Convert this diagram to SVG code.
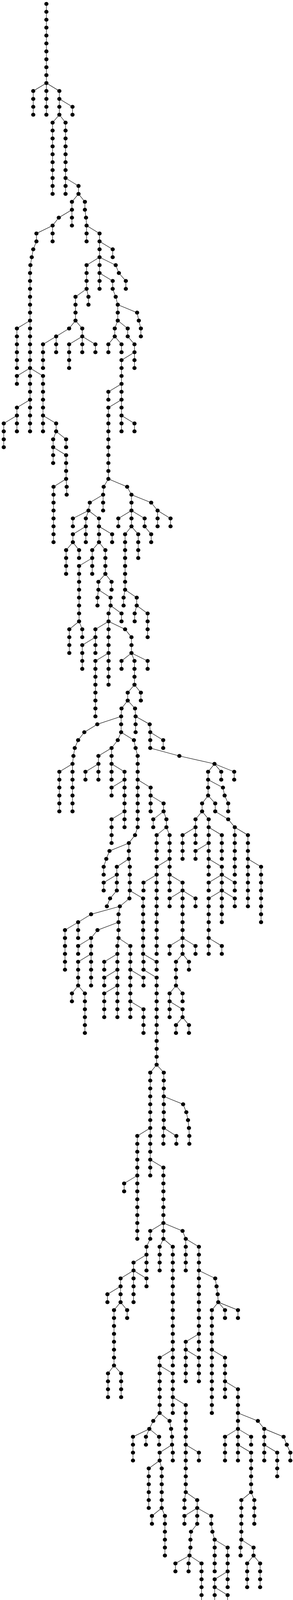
<svg xmlns="http://www.w3.org/2000/svg" width="751" height="4236" viewBox="0 0 751 4236">
<defs><ellipse id="d" rx="11" ry="0.2467"/></defs>
<style>.e{fill:none;stroke:#000;stroke-width:1.1}</style>
<rect width="751" height="4236" fill="#fff"/>
<g transform="matrix(0.4814 0 0 20.266 0 10)">
<g id="edges"><path class="e" vector-effect="non-scaling-stroke" d="M247,0V10M247,10L177,11V14M247,10V14M247,10L316,11V12M316,12L386,13V14M316,12V14M316,14L280,15V24M316,14L349,15V22M349,22V24M349,22L418,23V24M418,24L383,25V26M418,24L452,25V26L458,27L461,28M383,26V28M383,26L313,27L280,28M280,28V30M280,28L194,29V30L177,31L169,32L162,33L160,34V40M160,40L90,41V46M160,40V46M160,46L90,47V48M160,46V50M160,46L229,47V52M160,50L90,51V52M160,50V54M90,52L20,53V56M90,52V54M229,52V54M229,52L299,53V54M299,54L352,55V56M299,54L283,55V56M283,56V58M283,56L352,57V60M352,60L285,61V68M352,60L355,61V62M461,28V30M461,28L530,29V30M530,30L600,31V32M530,30V32M530,32L461,33V36M530,32V34M530,32L616,33L633,34L670,35V36M530,34V36M530,34L600,35V36L616,37L627,38M461,36L471,37V38M461,36L402,37V40M402,40L368,41L299,42M402,40L438,41V42M299,42L229,43V46M299,42V44M438,42L368,43V46M438,42V44M438,42L508,43V44M627,38L730,39L739,40L750,41V42M627,38V40M627,40L611,41V42M627,40L680,41V42L716,43V44M611,42L577,43V44M611,42L647,43V44M716,44L647,45V48M716,44V46M647,48L577,49V50M647,48V50M647,50L577,51V60M647,50V52M647,52V54M647,52L716,53V54M577,60L552,61L549,62M577,60L677,61L700,62M549,62V64M549,62L478,63L471,64M471,64L388,65V66M471,64L457,65V66M471,64L527,65V66M457,66L388,67V68M457,66V68M388,68L352,69V72M388,68L421,69V70M527,66V68M527,66L597,67V68M527,68L491,69V70M527,68L561,69V72M491,70L421,71V78M491,70V72M421,78L369,79V82M421,78L438,79V80M561,72L524,73V74M561,72L594,73V74M524,74L519,75V76M524,74L589,75V76M589,76L578,77V78M589,76L647,77V78M578,78L508,79V80M578,78V82M578,78L666,79L700,80V82M508,80L438,81V84M508,80V82M578,82L508,83V90M578,82V86M700,82L647,83V84M700,82L716,83V86M700,82L786,83V84M716,86L680,87V88M716,86L750,87V88M680,88L647,89L645,90M680,88L719,89L722,90M645,90L518,91L449,92L416,93L398,94L391,95L386,96M645,90V92M386,96L316,97V102M386,96V102M645,92L627,93L594,94M645,92L713,93L722,94L733,95V98M594,94L524,95V96M594,94V96M524,96L455,97V98M524,96V98M594,96V98M594,96L663,97V98M663,98L594,99V100M663,98V102M663,102L594,103V106M663,102V104M733,98V104L719,105L686,106M733,98L802,99V100M802,100V102M802,100L871,101V102M871,102L816,103V104M871,102L886,103V104M722,90V92M722,90L797,91L800,92M800,92L869,93V94M800,92V94L955,95L1142,96M1142,96L1108,97V98M1142,96L1178,97V98M1142,96L1247,97V98M1108,98V100M1108,98L1187,99L1196,100L1215,101V102M1108,100L1076,101V102M1108,100L1146,101V102L1215,103L1250,104M1076,102L1041,103V104M1076,102L1111,103V104M686,106L583,107L566,108L552,109V110M686,106V108M686,108L622,109V110M686,108L691,109V112M622,110L552,111V112M622,110V112L586,113L569,114M691,112L689,113L638,114M691,112L762,113V120M638,114L485,115L416,116M638,114L631,115V116M416,116L346,117V122M416,116V118M631,116L519,117L485,118M631,116V118M485,118L416,119V120M485,118V120M485,120L416,121V124M485,120V124M416,124L383,125V126M416,124L452,125V130M631,118L625,119V120M631,118L694,119V122M625,120L555,121V122M625,120V122M625,122L555,123V124M625,122V124M625,124L555,125V128M625,124V128M694,122V126M694,122L764,123V124M694,126V128M694,126L764,127V130M762,120L764,121V122L834,123V134M762,120L834,121V122M834,134L800,135V142M834,134L872,135V138M872,138V142M872,138L975,139L992,140L1001,141L1006,142L1008,143V144M872,142L870,143V144M872,142L939,143V144M800,142L731,143V148M800,142V146M731,148L661,149V150M731,148V156M800,146V148M800,146L870,147V154M870,154L800,155V156L780,157V158M870,154V156M870,154L972,155L989,156M780,158L711,159V160M780,158V160M711,160L642,161V162M711,160V164M711,160L780,161V162M642,162L572,163V164M642,162V164M642,164L607,165V172M642,164L677,165V166M607,172L575,173V176M607,172L645,173V176M870,156L850,157V160M870,156L920,157V170M920,170L850,171V172M920,170V172M850,172V178M850,172L920,173V176M989,156V160M989,156L1059,157V160M1059,160V168M1059,160L1146,161L1153,162L1159,163L1162,164M1059,168L989,169V170M1059,168V170M989,170V174M989,170L1059,171V174M1162,164L1128,165V170M1162,164L1198,165V166M1162,164L1267,165V166M1128,170V178M1128,170L1198,171V174M1198,174V176M1198,174L1267,175V178M850,178L816,179L795,180M850,178L903,179L911,180L916,181V182M795,180L708,181V184M795,180L777,181V182M795,180L847,181V182M916,182L850,183V184M916,182L920,183V184M850,184L792,185V190M850,184L861,185V190M861,190L809,191V192M861,190L878,191V196M920,176V178M920,176L989,177V182M989,182V188M989,182L1059,183V184M989,188L982,189V190M989,188L1050,189V190M1050,190L982,191V192M1050,190V192L1017,193L1014,194V195L1009,196M1050,190L1125,191V192L1131,193L1143,194M1009,196L934,197V198M1009,196L1004,197V198M1009,196L1073,197V204M1143,194V198M1143,194L1212,195V198M1212,198L1143,199V200M1212,198V200M1143,200V202M1143,200L1212,201V208M1267,178V180M1267,178L1373,179L1407,180M1267,180L1198,181V184M1267,180V182M1267,180L1337,181V182M1267,182V184M1267,182L1337,183V188M1337,188L1285,189V194M1337,188L1354,189V192M1285,194L1281,195V196M1285,194L1350,195V196M1350,196L1316,197V200M1350,196L1385,197V200M1407,180V182M1407,180L1510,181L1527,182L1546,183V184M1407,182V184M1407,182L1476,183V186M886,104L834,105V108M886,104L903,105V108M903,108L834,109V110M903,108V110M834,110L764,111V112M834,110V120M903,110V112M903,110L972,111V112M972,112L903,113V114M972,112V118M972,112L1041,113V114M972,118L903,119V120M972,118V120M972,118L1041,119V120M972,120L937,121V124M972,120L1006,121V122M937,124L903,125V126M937,124L972,125V126M903,126V128M903,126L972,127V128M972,128L937,129V130M972,128L1006,129V130M1041,104L972,105V108M1041,104V106M1111,104V106M1111,104L1181,105V108M1111,106L1041,107V108M1111,106V108M1111,108V110M1111,108L1181,109V110M1181,110L1111,111V112M1181,110V112M1181,110L1250,111V112M1181,112L1111,113V118M1181,112V116M1181,112L1250,113V114M1111,118V120M1111,118L1181,119V120M1250,104V110M1250,104L1320,105V108M1320,108V114M1320,108L1390,109V116M700,62V64M700,62L805,63L839,64M700,64L630,65V66M700,64V66M700,64L770,65V66L805,67V68M700,66L666,67V74M700,66L736,67V70M666,74L658,75V76M666,74L728,75V76M728,76L717,77V78M728,76L786,77V80M839,64V66M839,64L908,65V66"/></g>
<g id="nodes">
<g id="n247_0"><use href="#d" x="247" y="0"/></g><g id="n247_1"><use href="#d" x="247" y="1"/></g><g id="n247_2"><use href="#d" x="247" y="2"/></g><g id="n247_3"><use href="#d" x="247" y="3"/></g><g id="n247_4"><use href="#d" x="247" y="4"/></g><g id="n247_5"><use href="#d" x="247" y="5"/></g><g id="n247_6"><use href="#d" x="247" y="6"/></g><g id="n247_7"><use href="#d" x="247" y="7"/></g><g id="n247_8"><use href="#d" x="247" y="8"/></g><g id="n247_9"><use href="#d" x="247" y="9"/></g><g id="n247_10"><use href="#d" x="247" y="10"/></g>
<g id="n177_11"><use href="#d" x="177" y="11"/></g><g id="n177_12"><use href="#d" x="177" y="12"/></g><g id="n177_13"><use href="#d" x="177" y="13"/></g><g id="n177_14"><use href="#d" x="177" y="14"/></g>
<g id="n247_11"><use href="#d" x="247" y="11"/></g><g id="n247_12"><use href="#d" x="247" y="12"/></g><g id="n247_13"><use href="#d" x="247" y="13"/></g><g id="n247_14"><use href="#d" x="247" y="14"/></g>
<g id="n316_11"><use href="#d" x="316" y="11"/></g><g id="n316_12"><use href="#d" x="316" y="12"/></g><g id="n386_13"><use href="#d" x="386" y="13"/></g><g id="n386_14"><use href="#d" x="386" y="14"/></g><g id="n316_13"><use href="#d" x="316" y="13"/></g><g id="n316_14"><use href="#d" x="316" y="14"/></g>
<g id="n280_15"><use href="#d" x="280" y="15"/></g><g id="n280_16"><use href="#d" x="280" y="16"/></g><g id="n280_17"><use href="#d" x="280" y="17"/></g><g id="n280_18"><use href="#d" x="280" y="18"/></g><g id="n280_19"><use href="#d" x="280" y="19"/></g><g id="n280_20"><use href="#d" x="280" y="20"/></g><g id="n280_21"><use href="#d" x="280" y="21"/></g><g id="n280_22"><use href="#d" x="280" y="22"/></g><g id="n280_23"><use href="#d" x="280" y="23"/></g><g id="n280_24"><use href="#d" x="280" y="24"/></g>
<g id="n349_15"><use href="#d" x="349" y="15"/></g><g id="n349_16"><use href="#d" x="349" y="16"/></g><g id="n349_17"><use href="#d" x="349" y="17"/></g><g id="n349_18"><use href="#d" x="349" y="18"/></g><g id="n349_19"><use href="#d" x="349" y="19"/></g><g id="n349_20"><use href="#d" x="349" y="20"/></g><g id="n349_21"><use href="#d" x="349" y="21"/></g><g id="n349_22"><use href="#d" x="349" y="22"/></g><g id="n349_23"><use href="#d" x="349" y="23"/></g><g id="n349_24"><use href="#d" x="349" y="24"/></g>
<g id="n418_23"><use href="#d" x="418" y="23"/></g><g id="n418_24"><use href="#d" x="418" y="24"/></g><g id="n383_25"><use href="#d" x="383" y="25"/></g><g id="n383_26"><use href="#d" x="383" y="26"/></g><g id="n452_25"><use href="#d" x="452" y="25"/></g><g id="n452_26"><use href="#d" x="452" y="26"/></g><g id="n458_27"><use href="#d" x="458" y="27"/></g><g id="n461_28"><use href="#d" x="461" y="28"/></g>
<g id="n383_27"><use href="#d" x="383" y="27"/></g><g id="n383_28"><use href="#d" x="383" y="28"/></g><g id="n313_27"><use href="#d" x="313" y="27"/></g><g id="n280_28"><use href="#d" x="280" y="28"/></g><g id="n280_29"><use href="#d" x="280" y="29"/></g><g id="n280_30"><use href="#d" x="280" y="30"/></g>
<g id="n194_29"><use href="#d" x="194" y="29"/></g><g id="n194_30"><use href="#d" x="194" y="30"/></g><g id="n177_31"><use href="#d" x="177" y="31"/></g><g id="n169_32"><use href="#d" x="169" y="32"/></g><g id="n162_33"><use href="#d" x="162" y="33"/></g><g id="n160_34"><use href="#d" x="160" y="34"/></g><g id="n160_35"><use href="#d" x="160" y="35"/></g><g id="n160_36"><use href="#d" x="160" y="36"/></g><g id="n160_37"><use href="#d" x="160" y="37"/></g><g id="n160_38"><use href="#d" x="160" y="38"/></g><g id="n160_39"><use href="#d" x="160" y="39"/></g><g id="n160_40"><use href="#d" x="160" y="40"/></g>
<g id="n90_41"><use href="#d" x="90" y="41"/></g><g id="n90_42"><use href="#d" x="90" y="42"/></g><g id="n90_43"><use href="#d" x="90" y="43"/></g><g id="n90_44"><use href="#d" x="90" y="44"/></g><g id="n90_45"><use href="#d" x="90" y="45"/></g><g id="n90_46"><use href="#d" x="90" y="46"/></g>
<g id="n160_41"><use href="#d" x="160" y="41"/></g><g id="n160_42"><use href="#d" x="160" y="42"/></g><g id="n160_43"><use href="#d" x="160" y="43"/></g><g id="n160_44"><use href="#d" x="160" y="44"/></g><g id="n160_45"><use href="#d" x="160" y="45"/></g><g id="n160_46"><use href="#d" x="160" y="46"/></g>
<g id="n90_47"><use href="#d" x="90" y="47"/></g><g id="n90_48"><use href="#d" x="90" y="48"/></g><g id="n160_47"><use href="#d" x="160" y="47"/></g><g id="n160_48"><use href="#d" x="160" y="48"/></g><g id="n160_49"><use href="#d" x="160" y="49"/></g><g id="n160_50"><use href="#d" x="160" y="50"/></g>
<g id="n229_47"><use href="#d" x="229" y="47"/></g><g id="n229_48"><use href="#d" x="229" y="48"/></g><g id="n229_49"><use href="#d" x="229" y="49"/></g><g id="n229_50"><use href="#d" x="229" y="50"/></g><g id="n229_51"><use href="#d" x="229" y="51"/></g><g id="n229_52"><use href="#d" x="229" y="52"/></g>
<g id="n90_51"><use href="#d" x="90" y="51"/></g><g id="n90_52"><use href="#d" x="90" y="52"/></g><g id="n160_51"><use href="#d" x="160" y="51"/></g><g id="n160_52"><use href="#d" x="160" y="52"/></g><g id="n160_53"><use href="#d" x="160" y="53"/></g><g id="n160_54"><use href="#d" x="160" y="54"/></g>
<g id="n20_53"><use href="#d" x="20" y="53"/></g><g id="n20_54"><use href="#d" x="20" y="54"/></g><g id="n20_55"><use href="#d" x="20" y="55"/></g><g id="n20_56"><use href="#d" x="20" y="56"/></g><g id="n90_53"><use href="#d" x="90" y="53"/></g><g id="n90_54"><use href="#d" x="90" y="54"/></g>
<g id="n229_53"><use href="#d" x="229" y="53"/></g><g id="n229_54"><use href="#d" x="229" y="54"/></g><g id="n299_53"><use href="#d" x="299" y="53"/></g><g id="n299_54"><use href="#d" x="299" y="54"/></g><g id="n352_55"><use href="#d" x="352" y="55"/></g><g id="n352_56"><use href="#d" x="352" y="56"/></g><g id="n283_55"><use href="#d" x="283" y="55"/></g><g id="n283_56"><use href="#d" x="283" y="56"/></g><g id="n283_57"><use href="#d" x="283" y="57"/></g><g id="n283_58"><use href="#d" x="283" y="58"/></g>
<g id="n352_57"><use href="#d" x="352" y="57"/></g><g id="n352_58"><use href="#d" x="352" y="58"/></g><g id="n352_59"><use href="#d" x="352" y="59"/></g><g id="n352_60"><use href="#d" x="352" y="60"/></g>
<g id="n285_61"><use href="#d" x="285" y="61"/></g><g id="n285_62"><use href="#d" x="285" y="62"/></g><g id="n285_63"><use href="#d" x="285" y="63"/></g><g id="n285_64"><use href="#d" x="285" y="64"/></g><g id="n285_65"><use href="#d" x="285" y="65"/></g><g id="n285_66"><use href="#d" x="285" y="66"/></g><g id="n285_67"><use href="#d" x="285" y="67"/></g><g id="n285_68"><use href="#d" x="285" y="68"/></g><g id="n355_61"><use href="#d" x="355" y="61"/></g><g id="n355_62"><use href="#d" x="355" y="62"/></g>
<g id="n461_29"><use href="#d" x="461" y="29"/></g><g id="n461_30"><use href="#d" x="461" y="30"/></g><g id="n530_29"><use href="#d" x="530" y="29"/></g><g id="n530_30"><use href="#d" x="530" y="30"/></g><g id="n600_31"><use href="#d" x="600" y="31"/></g><g id="n600_32"><use href="#d" x="600" y="32"/></g><g id="n530_31"><use href="#d" x="530" y="31"/></g><g id="n530_32"><use href="#d" x="530" y="32"/></g>
<g id="n461_33"><use href="#d" x="461" y="33"/></g><g id="n461_34"><use href="#d" x="461" y="34"/></g><g id="n461_35"><use href="#d" x="461" y="35"/></g><g id="n461_36"><use href="#d" x="461" y="36"/></g><g id="n530_33"><use href="#d" x="530" y="33"/></g><g id="n530_34"><use href="#d" x="530" y="34"/></g>
<g id="n616_33"><use href="#d" x="616" y="33"/></g><g id="n633_34"><use href="#d" x="633" y="34"/></g><g id="n670_35"><use href="#d" x="670" y="35"/></g><g id="n670_36"><use href="#d" x="670" y="36"/></g><g id="n530_35"><use href="#d" x="530" y="35"/></g><g id="n530_36"><use href="#d" x="530" y="36"/></g>
<g id="n600_35"><use href="#d" x="600" y="35"/></g><g id="n600_36"><use href="#d" x="600" y="36"/></g><g id="n616_37"><use href="#d" x="616" y="37"/></g><g id="n627_38"><use href="#d" x="627" y="38"/></g><g id="n471_37"><use href="#d" x="471" y="37"/></g><g id="n471_38"><use href="#d" x="471" y="38"/></g>
<g id="n402_37"><use href="#d" x="402" y="37"/></g><g id="n402_38"><use href="#d" x="402" y="38"/></g><g id="n402_39"><use href="#d" x="402" y="39"/></g><g id="n402_40"><use href="#d" x="402" y="40"/></g><g id="n368_41"><use href="#d" x="368" y="41"/></g><g id="n299_42"><use href="#d" x="299" y="42"/></g><g id="n438_41"><use href="#d" x="438" y="41"/></g><g id="n438_42"><use href="#d" x="438" y="42"/></g>
<g id="n229_43"><use href="#d" x="229" y="43"/></g><g id="n229_44"><use href="#d" x="229" y="44"/></g><g id="n229_45"><use href="#d" x="229" y="45"/></g><g id="n229_46"><use href="#d" x="229" y="46"/></g><g id="n299_43"><use href="#d" x="299" y="43"/></g><g id="n299_44"><use href="#d" x="299" y="44"/></g>
<g id="n368_43"><use href="#d" x="368" y="43"/></g><g id="n368_44"><use href="#d" x="368" y="44"/></g><g id="n368_45"><use href="#d" x="368" y="45"/></g><g id="n368_46"><use href="#d" x="368" y="46"/></g><g id="n438_43"><use href="#d" x="438" y="43"/></g><g id="n438_44"><use href="#d" x="438" y="44"/></g><g id="n508_43"><use href="#d" x="508" y="43"/></g><g id="n508_44"><use href="#d" x="508" y="44"/></g>
<g id="n730_39"><use href="#d" x="730" y="39"/></g><g id="n739_40"><use href="#d" x="739" y="40"/></g><g id="n750_41"><use href="#d" x="750" y="41"/></g><g id="n750_42"><use href="#d" x="750" y="42"/></g><g id="n627_39"><use href="#d" x="627" y="39"/></g><g id="n627_40"><use href="#d" x="627" y="40"/></g>
<g id="n611_41"><use href="#d" x="611" y="41"/></g><g id="n611_42"><use href="#d" x="611" y="42"/></g><g id="n680_41"><use href="#d" x="680" y="41"/></g><g id="n680_42"><use href="#d" x="680" y="42"/></g><g id="n716_43"><use href="#d" x="716" y="43"/></g><g id="n716_44"><use href="#d" x="716" y="44"/></g>
<g id="n577_43"><use href="#d" x="577" y="43"/></g><g id="n577_44"><use href="#d" x="577" y="44"/></g><g id="n647_43"><use href="#d" x="647" y="43"/></g><g id="n647_44"><use href="#d" x="647" y="44"/></g>
<g id="n647_45"><use href="#d" x="647" y="45"/></g><g id="n647_46"><use href="#d" x="647" y="46"/></g><g id="n647_47"><use href="#d" x="647" y="47"/></g><g id="n647_48"><use href="#d" x="647" y="48"/></g><g id="n716_45"><use href="#d" x="716" y="45"/></g><g id="n716_46"><use href="#d" x="716" y="46"/></g>
<g id="n577_49"><use href="#d" x="577" y="49"/></g><g id="n577_50"><use href="#d" x="577" y="50"/></g><g id="n647_49"><use href="#d" x="647" y="49"/></g><g id="n647_50"><use href="#d" x="647" y="50"/></g>
<g id="n577_51"><use href="#d" x="577" y="51"/></g><g id="n577_52"><use href="#d" x="577" y="52"/></g><g id="n577_53"><use href="#d" x="577" y="53"/></g><g id="n577_54"><use href="#d" x="577" y="54"/></g><g id="n577_55"><use href="#d" x="577" y="55"/></g><g id="n577_56"><use href="#d" x="577" y="56"/></g><g id="n577_57"><use href="#d" x="577" y="57"/></g><g id="n577_58"><use href="#d" x="577" y="58"/></g><g id="n577_59"><use href="#d" x="577" y="59"/></g><g id="n577_60"><use href="#d" x="577" y="60"/></g>
<g id="n647_51"><use href="#d" x="647" y="51"/></g><g id="n647_52"><use href="#d" x="647" y="52"/></g><g id="n647_53"><use href="#d" x="647" y="53"/></g><g id="n647_54"><use href="#d" x="647" y="54"/></g><g id="n716_53"><use href="#d" x="716" y="53"/></g><g id="n716_54"><use href="#d" x="716" y="54"/></g>
<g id="n552_61"><use href="#d" x="552" y="61"/></g><g id="n549_62"><use href="#d" x="549" y="62"/></g><g id="n677_61"><use href="#d" x="677" y="61"/></g><g id="n700_62"><use href="#d" x="700" y="62"/></g><g id="n549_63"><use href="#d" x="549" y="63"/></g><g id="n549_64"><use href="#d" x="549" y="64"/></g><g id="n478_63"><use href="#d" x="478" y="63"/></g><g id="n471_64"><use href="#d" x="471" y="64"/></g>
<g id="n388_65"><use href="#d" x="388" y="65"/></g><g id="n388_66"><use href="#d" x="388" y="66"/></g><g id="n457_65"><use href="#d" x="457" y="65"/></g><g id="n457_66"><use href="#d" x="457" y="66"/></g><g id="n527_65"><use href="#d" x="527" y="65"/></g><g id="n527_66"><use href="#d" x="527" y="66"/></g>
<g id="n388_67"><use href="#d" x="388" y="67"/></g><g id="n388_68"><use href="#d" x="388" y="68"/></g><g id="n457_67"><use href="#d" x="457" y="67"/></g><g id="n457_68"><use href="#d" x="457" y="68"/></g>
<g id="n352_69"><use href="#d" x="352" y="69"/></g><g id="n352_70"><use href="#d" x="352" y="70"/></g><g id="n352_71"><use href="#d" x="352" y="71"/></g><g id="n352_72"><use href="#d" x="352" y="72"/></g><g id="n421_69"><use href="#d" x="421" y="69"/></g><g id="n421_70"><use href="#d" x="421" y="70"/></g>
<g id="n527_67"><use href="#d" x="527" y="67"/></g><g id="n527_68"><use href="#d" x="527" y="68"/></g><g id="n597_67"><use href="#d" x="597" y="67"/></g><g id="n597_68"><use href="#d" x="597" y="68"/></g><g id="n491_69"><use href="#d" x="491" y="69"/></g><g id="n491_70"><use href="#d" x="491" y="70"/></g>
<g id="n561_69"><use href="#d" x="561" y="69"/></g><g id="n561_70"><use href="#d" x="561" y="70"/></g><g id="n561_71"><use href="#d" x="561" y="71"/></g><g id="n561_72"><use href="#d" x="561" y="72"/></g>
<g id="n421_71"><use href="#d" x="421" y="71"/></g><g id="n421_72"><use href="#d" x="421" y="72"/></g><g id="n421_73"><use href="#d" x="421" y="73"/></g><g id="n421_74"><use href="#d" x="421" y="74"/></g><g id="n421_75"><use href="#d" x="421" y="75"/></g><g id="n421_76"><use href="#d" x="421" y="76"/></g><g id="n421_77"><use href="#d" x="421" y="77"/></g><g id="n421_78"><use href="#d" x="421" y="78"/></g><g id="n491_71"><use href="#d" x="491" y="71"/></g><g id="n491_72"><use href="#d" x="491" y="72"/></g>
<g id="n369_79"><use href="#d" x="369" y="79"/></g><g id="n369_80"><use href="#d" x="369" y="80"/></g><g id="n369_81"><use href="#d" x="369" y="81"/></g><g id="n369_82"><use href="#d" x="369" y="82"/></g><g id="n438_79"><use href="#d" x="438" y="79"/></g><g id="n438_80"><use href="#d" x="438" y="80"/></g>
<g id="n524_73"><use href="#d" x="524" y="73"/></g><g id="n524_74"><use href="#d" x="524" y="74"/></g><g id="n594_73"><use href="#d" x="594" y="73"/></g><g id="n594_74"><use href="#d" x="594" y="74"/></g><g id="n519_75"><use href="#d" x="519" y="75"/></g><g id="n519_76"><use href="#d" x="519" y="76"/></g><g id="n589_75"><use href="#d" x="589" y="75"/></g><g id="n589_76"><use href="#d" x="589" y="76"/></g>
<g id="n578_77"><use href="#d" x="578" y="77"/></g><g id="n578_78"><use href="#d" x="578" y="78"/></g><g id="n647_77"><use href="#d" x="647" y="77"/></g><g id="n647_78"><use href="#d" x="647" y="78"/></g><g id="n508_79"><use href="#d" x="508" y="79"/></g><g id="n508_80"><use href="#d" x="508" y="80"/></g>
<g id="n578_79"><use href="#d" x="578" y="79"/></g><g id="n578_80"><use href="#d" x="578" y="80"/></g><g id="n578_81"><use href="#d" x="578" y="81"/></g><g id="n578_82"><use href="#d" x="578" y="82"/></g><g id="n666_79"><use href="#d" x="666" y="79"/></g><g id="n700_80"><use href="#d" x="700" y="80"/></g><g id="n700_81"><use href="#d" x="700" y="81"/></g><g id="n700_82"><use href="#d" x="700" y="82"/></g>
<g id="n438_81"><use href="#d" x="438" y="81"/></g><g id="n438_82"><use href="#d" x="438" y="82"/></g><g id="n438_83"><use href="#d" x="438" y="83"/></g><g id="n438_84"><use href="#d" x="438" y="84"/></g><g id="n508_81"><use href="#d" x="508" y="81"/></g><g id="n508_82"><use href="#d" x="508" y="82"/></g>
<g id="n508_83"><use href="#d" x="508" y="83"/></g><g id="n508_84"><use href="#d" x="508" y="84"/></g><g id="n508_85"><use href="#d" x="508" y="85"/></g><g id="n508_86"><use href="#d" x="508" y="86"/></g><g id="n508_87"><use href="#d" x="508" y="87"/></g><g id="n508_88"><use href="#d" x="508" y="88"/></g><g id="n508_89"><use href="#d" x="508" y="89"/></g><g id="n508_90"><use href="#d" x="508" y="90"/></g>
<g id="n578_83"><use href="#d" x="578" y="83"/></g><g id="n578_84"><use href="#d" x="578" y="84"/></g><g id="n578_85"><use href="#d" x="578" y="85"/></g><g id="n578_86"><use href="#d" x="578" y="86"/></g><g id="n647_83"><use href="#d" x="647" y="83"/></g><g id="n647_84"><use href="#d" x="647" y="84"/></g>
<g id="n716_83"><use href="#d" x="716" y="83"/></g><g id="n716_84"><use href="#d" x="716" y="84"/></g><g id="n716_85"><use href="#d" x="716" y="85"/></g><g id="n716_86"><use href="#d" x="716" y="86"/></g><g id="n786_83"><use href="#d" x="786" y="83"/></g><g id="n786_84"><use href="#d" x="786" y="84"/></g>
<g id="n680_87"><use href="#d" x="680" y="87"/></g><g id="n680_88"><use href="#d" x="680" y="88"/></g><g id="n750_87"><use href="#d" x="750" y="87"/></g><g id="n750_88"><use href="#d" x="750" y="88"/></g><g id="n647_89"><use href="#d" x="647" y="89"/></g><g id="n645_90"><use href="#d" x="645" y="90"/></g><g id="n719_89"><use href="#d" x="719" y="89"/></g><g id="n722_90"><use href="#d" x="722" y="90"/></g>
<g id="n518_91"><use href="#d" x="518" y="91"/></g><g id="n449_92"><use href="#d" x="449" y="92"/></g><g id="n416_93"><use href="#d" x="416" y="93"/></g><g id="n398_94"><use href="#d" x="398" y="94"/></g><g id="n391_95"><use href="#d" x="391" y="95"/></g><g id="n386_96"><use href="#d" x="386" y="96"/></g><g id="n645_91"><use href="#d" x="645" y="91"/></g><g id="n645_92"><use href="#d" x="645" y="92"/></g>
<g id="n316_97"><use href="#d" x="316" y="97"/></g><g id="n316_98"><use href="#d" x="316" y="98"/></g><g id="n316_99"><use href="#d" x="316" y="99"/></g><g id="n316_100"><use href="#d" x="316" y="100"/></g><g id="n316_101"><use href="#d" x="316" y="101"/></g><g id="n316_102"><use href="#d" x="316" y="102"/></g>
<g id="n386_97"><use href="#d" x="386" y="97"/></g><g id="n386_98"><use href="#d" x="386" y="98"/></g><g id="n386_99"><use href="#d" x="386" y="99"/></g><g id="n386_100"><use href="#d" x="386" y="100"/></g><g id="n386_101"><use href="#d" x="386" y="101"/></g><g id="n386_102"><use href="#d" x="386" y="102"/></g>
<g id="n627_93"><use href="#d" x="627" y="93"/></g><g id="n594_94"><use href="#d" x="594" y="94"/></g><g id="n713_93"><use href="#d" x="713" y="93"/></g><g id="n722_94"><use href="#d" x="722" y="94"/></g><g id="n733_95"><use href="#d" x="733" y="95"/></g><g id="n733_96"><use href="#d" x="733" y="96"/></g><g id="n733_97"><use href="#d" x="733" y="97"/></g><g id="n733_98"><use href="#d" x="733" y="98"/></g>
<g id="n524_95"><use href="#d" x="524" y="95"/></g><g id="n524_96"><use href="#d" x="524" y="96"/></g><g id="n594_95"><use href="#d" x="594" y="95"/></g><g id="n594_96"><use href="#d" x="594" y="96"/></g><g id="n455_97"><use href="#d" x="455" y="97"/></g><g id="n455_98"><use href="#d" x="455" y="98"/></g><g id="n524_97"><use href="#d" x="524" y="97"/></g><g id="n524_98"><use href="#d" x="524" y="98"/></g>
<g id="n594_97"><use href="#d" x="594" y="97"/></g><g id="n594_98"><use href="#d" x="594" y="98"/></g><g id="n663_97"><use href="#d" x="663" y="97"/></g><g id="n663_98"><use href="#d" x="663" y="98"/></g><g id="n594_99"><use href="#d" x="594" y="99"/></g><g id="n594_100"><use href="#d" x="594" y="100"/></g>
<g id="n663_99"><use href="#d" x="663" y="99"/></g><g id="n663_100"><use href="#d" x="663" y="100"/></g><g id="n663_101"><use href="#d" x="663" y="101"/></g><g id="n663_102"><use href="#d" x="663" y="102"/></g>
<g id="n594_103"><use href="#d" x="594" y="103"/></g><g id="n594_104"><use href="#d" x="594" y="104"/></g><g id="n594_105"><use href="#d" x="594" y="105"/></g><g id="n594_106"><use href="#d" x="594" y="106"/></g><g id="n663_103"><use href="#d" x="663" y="103"/></g><g id="n663_104"><use href="#d" x="663" y="104"/></g>
<g id="n733_99"><use href="#d" x="733" y="99"/></g><g id="n733_100"><use href="#d" x="733" y="100"/></g><g id="n733_101"><use href="#d" x="733" y="101"/></g><g id="n733_102"><use href="#d" x="733" y="102"/></g><g id="n733_103"><use href="#d" x="733" y="103"/></g><g id="n733_104"><use href="#d" x="733" y="104"/></g><g id="n719_105"><use href="#d" x="719" y="105"/></g><g id="n686_106"><use href="#d" x="686" y="106"/></g>
<g id="n802_99"><use href="#d" x="802" y="99"/></g><g id="n802_100"><use href="#d" x="802" y="100"/></g><g id="n802_101"><use href="#d" x="802" y="101"/></g><g id="n802_102"><use href="#d" x="802" y="102"/></g><g id="n871_101"><use href="#d" x="871" y="101"/></g><g id="n871_102"><use href="#d" x="871" y="102"/></g>
<g id="n816_103"><use href="#d" x="816" y="103"/></g><g id="n816_104"><use href="#d" x="816" y="104"/></g><g id="n886_103"><use href="#d" x="886" y="103"/></g><g id="n886_104"><use href="#d" x="886" y="104"/></g><g id="n722_91"><use href="#d" x="722" y="91"/></g><g id="n722_92"><use href="#d" x="722" y="92"/></g><g id="n797_91"><use href="#d" x="797" y="91"/></g><g id="n800_92"><use href="#d" x="800" y="92"/></g>
<g id="n869_93"><use href="#d" x="869" y="93"/></g><g id="n869_94"><use href="#d" x="869" y="94"/></g><g id="n800_93"><use href="#d" x="800" y="93"/></g><g id="n800_94"><use href="#d" x="800" y="94"/></g><g id="n955_95"><use href="#d" x="955" y="95"/></g><g id="n1142_96"><use href="#d" x="1142" y="96"/></g>
<g id="n1108_97"><use href="#d" x="1108" y="97"/></g><g id="n1108_98"><use href="#d" x="1108" y="98"/></g><g id="n1178_97"><use href="#d" x="1178" y="97"/></g><g id="n1178_98"><use href="#d" x="1178" y="98"/></g><g id="n1247_97"><use href="#d" x="1247" y="97"/></g><g id="n1247_98"><use href="#d" x="1247" y="98"/></g>
<g id="n1108_99"><use href="#d" x="1108" y="99"/></g><g id="n1108_100"><use href="#d" x="1108" y="100"/></g><g id="n1187_99"><use href="#d" x="1187" y="99"/></g><g id="n1196_100"><use href="#d" x="1196" y="100"/></g><g id="n1215_101"><use href="#d" x="1215" y="101"/></g><g id="n1215_102"><use href="#d" x="1215" y="102"/></g>
<g id="n1076_101"><use href="#d" x="1076" y="101"/></g><g id="n1076_102"><use href="#d" x="1076" y="102"/></g><g id="n1146_101"><use href="#d" x="1146" y="101"/></g><g id="n1146_102"><use href="#d" x="1146" y="102"/></g><g id="n1215_103"><use href="#d" x="1215" y="103"/></g><g id="n1250_104"><use href="#d" x="1250" y="104"/></g>
<g id="n1041_103"><use href="#d" x="1041" y="103"/></g><g id="n1041_104"><use href="#d" x="1041" y="104"/></g><g id="n1111_103"><use href="#d" x="1111" y="103"/></g><g id="n1111_104"><use href="#d" x="1111" y="104"/></g>
<g id="n583_107"><use href="#d" x="583" y="107"/></g><g id="n566_108"><use href="#d" x="566" y="108"/></g><g id="n552_109"><use href="#d" x="552" y="109"/></g><g id="n552_110"><use href="#d" x="552" y="110"/></g><g id="n686_107"><use href="#d" x="686" y="107"/></g><g id="n686_108"><use href="#d" x="686" y="108"/></g>
<g id="n622_109"><use href="#d" x="622" y="109"/></g><g id="n622_110"><use href="#d" x="622" y="110"/></g><g id="n691_109"><use href="#d" x="691" y="109"/></g><g id="n691_110"><use href="#d" x="691" y="110"/></g><g id="n691_111"><use href="#d" x="691" y="111"/></g><g id="n691_112"><use href="#d" x="691" y="112"/></g>
<g id="n552_111"><use href="#d" x="552" y="111"/></g><g id="n552_112"><use href="#d" x="552" y="112"/></g><g id="n622_111"><use href="#d" x="622" y="111"/></g><g id="n622_112"><use href="#d" x="622" y="112"/></g><g id="n586_113"><use href="#d" x="586" y="113"/></g><g id="n569_114"><use href="#d" x="569" y="114"/></g>
<g id="n689_113"><use href="#d" x="689" y="113"/></g><g id="n638_114"><use href="#d" x="638" y="114"/></g>
<g id="n762_113"><use href="#d" x="762" y="113"/></g><g id="n762_114"><use href="#d" x="762" y="114"/></g><g id="n762_115"><use href="#d" x="762" y="115"/></g><g id="n762_116"><use href="#d" x="762" y="116"/></g><g id="n762_117"><use href="#d" x="762" y="117"/></g><g id="n762_118"><use href="#d" x="762" y="118"/></g><g id="n762_119"><use href="#d" x="762" y="119"/></g><g id="n762_120"><use href="#d" x="762" y="120"/></g>
<g id="n485_115"><use href="#d" x="485" y="115"/></g><g id="n416_116"><use href="#d" x="416" y="116"/></g><g id="n631_115"><use href="#d" x="631" y="115"/></g><g id="n631_116"><use href="#d" x="631" y="116"/></g>
<g id="n346_117"><use href="#d" x="346" y="117"/></g><g id="n346_118"><use href="#d" x="346" y="118"/></g><g id="n346_119"><use href="#d" x="346" y="119"/></g><g id="n346_120"><use href="#d" x="346" y="120"/></g><g id="n346_121"><use href="#d" x="346" y="121"/></g><g id="n346_122"><use href="#d" x="346" y="122"/></g>
<g id="n416_117"><use href="#d" x="416" y="117"/></g><g id="n416_118"><use href="#d" x="416" y="118"/></g><g id="n519_117"><use href="#d" x="519" y="117"/></g><g id="n485_118"><use href="#d" x="485" y="118"/></g><g id="n631_117"><use href="#d" x="631" y="117"/></g><g id="n631_118"><use href="#d" x="631" y="118"/></g>
<g id="n416_119"><use href="#d" x="416" y="119"/></g><g id="n416_120"><use href="#d" x="416" y="120"/></g><g id="n485_119"><use href="#d" x="485" y="119"/></g><g id="n485_120"><use href="#d" x="485" y="120"/></g>
<g id="n416_121"><use href="#d" x="416" y="121"/></g><g id="n416_122"><use href="#d" x="416" y="122"/></g><g id="n416_123"><use href="#d" x="416" y="123"/></g><g id="n416_124"><use href="#d" x="416" y="124"/></g><g id="n485_121"><use href="#d" x="485" y="121"/></g><g id="n485_122"><use href="#d" x="485" y="122"/></g><g id="n485_123"><use href="#d" x="485" y="123"/></g><g id="n485_124"><use href="#d" x="485" y="124"/></g>
<g id="n383_125"><use href="#d" x="383" y="125"/></g><g id="n383_126"><use href="#d" x="383" y="126"/></g><g id="n452_125"><use href="#d" x="452" y="125"/></g><g id="n452_126"><use href="#d" x="452" y="126"/></g><g id="n452_127"><use href="#d" x="452" y="127"/></g><g id="n452_128"><use href="#d" x="452" y="128"/></g><g id="n452_129"><use href="#d" x="452" y="129"/></g><g id="n452_130"><use href="#d" x="452" y="130"/></g>
<g id="n625_119"><use href="#d" x="625" y="119"/></g><g id="n625_120"><use href="#d" x="625" y="120"/></g><g id="n694_119"><use href="#d" x="694" y="119"/></g><g id="n694_120"><use href="#d" x="694" y="120"/></g><g id="n694_121"><use href="#d" x="694" y="121"/></g><g id="n694_122"><use href="#d" x="694" y="122"/></g>
<g id="n555_121"><use href="#d" x="555" y="121"/></g><g id="n555_122"><use href="#d" x="555" y="122"/></g><g id="n625_121"><use href="#d" x="625" y="121"/></g><g id="n625_122"><use href="#d" x="625" y="122"/></g><g id="n555_123"><use href="#d" x="555" y="123"/></g><g id="n555_124"><use href="#d" x="555" y="124"/></g><g id="n625_123"><use href="#d" x="625" y="123"/></g><g id="n625_124"><use href="#d" x="625" y="124"/></g>
<g id="n555_125"><use href="#d" x="555" y="125"/></g><g id="n555_126"><use href="#d" x="555" y="126"/></g><g id="n555_127"><use href="#d" x="555" y="127"/></g><g id="n555_128"><use href="#d" x="555" y="128"/></g><g id="n625_125"><use href="#d" x="625" y="125"/></g><g id="n625_126"><use href="#d" x="625" y="126"/></g><g id="n625_127"><use href="#d" x="625" y="127"/></g><g id="n625_128"><use href="#d" x="625" y="128"/></g>
<g id="n694_123"><use href="#d" x="694" y="123"/></g><g id="n694_124"><use href="#d" x="694" y="124"/></g><g id="n694_125"><use href="#d" x="694" y="125"/></g><g id="n694_126"><use href="#d" x="694" y="126"/></g><g id="n764_123"><use href="#d" x="764" y="123"/></g><g id="n764_124"><use href="#d" x="764" y="124"/></g>
<g id="n694_127"><use href="#d" x="694" y="127"/></g><g id="n694_128"><use href="#d" x="694" y="128"/></g><g id="n764_127"><use href="#d" x="764" y="127"/></g><g id="n764_128"><use href="#d" x="764" y="128"/></g><g id="n764_129"><use href="#d" x="764" y="129"/></g><g id="n764_130"><use href="#d" x="764" y="130"/></g>
<g id="n764_121"><use href="#d" x="764" y="121"/></g><g id="n764_122"><use href="#d" x="764" y="122"/></g>
<g id="n834_123"><use href="#d" x="834" y="123"/></g><g id="n834_124"><use href="#d" x="834" y="124"/></g><g id="n834_125"><use href="#d" x="834" y="125"/></g><g id="n834_126"><use href="#d" x="834" y="126"/></g><g id="n834_127"><use href="#d" x="834" y="127"/></g><g id="n834_128"><use href="#d" x="834" y="128"/></g><g id="n834_129"><use href="#d" x="834" y="129"/></g><g id="n834_130"><use href="#d" x="834" y="130"/></g><g id="n834_131"><use href="#d" x="834" y="131"/></g><g id="n834_132"><use href="#d" x="834" y="132"/></g><g id="n834_133"><use href="#d" x="834" y="133"/></g><g id="n834_134"><use href="#d" x="834" y="134"/></g>
<g id="n834_121"><use href="#d" x="834" y="121"/></g><g id="n834_122"><use href="#d" x="834" y="122"/></g>
<g id="n800_135"><use href="#d" x="800" y="135"/></g><g id="n800_136"><use href="#d" x="800" y="136"/></g><g id="n800_137"><use href="#d" x="800" y="137"/></g><g id="n800_138"><use href="#d" x="800" y="138"/></g><g id="n800_139"><use href="#d" x="800" y="139"/></g><g id="n800_140"><use href="#d" x="800" y="140"/></g><g id="n800_141"><use href="#d" x="800" y="141"/></g><g id="n800_142"><use href="#d" x="800" y="142"/></g>
<g id="n872_135"><use href="#d" x="872" y="135"/></g><g id="n872_136"><use href="#d" x="872" y="136"/></g><g id="n872_137"><use href="#d" x="872" y="137"/></g><g id="n872_138"><use href="#d" x="872" y="138"/></g><g id="n872_139"><use href="#d" x="872" y="139"/></g><g id="n872_140"><use href="#d" x="872" y="140"/></g><g id="n872_141"><use href="#d" x="872" y="141"/></g><g id="n872_142"><use href="#d" x="872" y="142"/></g>
<g id="n975_139"><use href="#d" x="975" y="139"/></g><g id="n992_140"><use href="#d" x="992" y="140"/></g><g id="n1001_141"><use href="#d" x="1001" y="141"/></g><g id="n1006_142"><use href="#d" x="1006" y="142"/></g><g id="n1008_143"><use href="#d" x="1008" y="143"/></g><g id="n1008_144"><use href="#d" x="1008" y="144"/></g>
<g id="n870_143"><use href="#d" x="870" y="143"/></g><g id="n870_144"><use href="#d" x="870" y="144"/></g><g id="n939_143"><use href="#d" x="939" y="143"/></g><g id="n939_144"><use href="#d" x="939" y="144"/></g>
<g id="n731_143"><use href="#d" x="731" y="143"/></g><g id="n731_144"><use href="#d" x="731" y="144"/></g><g id="n731_145"><use href="#d" x="731" y="145"/></g><g id="n731_146"><use href="#d" x="731" y="146"/></g><g id="n731_147"><use href="#d" x="731" y="147"/></g><g id="n731_148"><use href="#d" x="731" y="148"/></g>
<g id="n800_143"><use href="#d" x="800" y="143"/></g><g id="n800_144"><use href="#d" x="800" y="144"/></g><g id="n800_145"><use href="#d" x="800" y="145"/></g><g id="n800_146"><use href="#d" x="800" y="146"/></g><g id="n661_149"><use href="#d" x="661" y="149"/></g><g id="n661_150"><use href="#d" x="661" y="150"/></g>
<g id="n731_149"><use href="#d" x="731" y="149"/></g><g id="n731_150"><use href="#d" x="731" y="150"/></g><g id="n731_151"><use href="#d" x="731" y="151"/></g><g id="n731_152"><use href="#d" x="731" y="152"/></g><g id="n731_153"><use href="#d" x="731" y="153"/></g><g id="n731_154"><use href="#d" x="731" y="154"/></g><g id="n731_155"><use href="#d" x="731" y="155"/></g><g id="n731_156"><use href="#d" x="731" y="156"/></g>
<g id="n800_147"><use href="#d" x="800" y="147"/></g><g id="n800_148"><use href="#d" x="800" y="148"/></g>
<g id="n870_147"><use href="#d" x="870" y="147"/></g><g id="n870_148"><use href="#d" x="870" y="148"/></g><g id="n870_149"><use href="#d" x="870" y="149"/></g><g id="n870_150"><use href="#d" x="870" y="150"/></g><g id="n870_151"><use href="#d" x="870" y="151"/></g><g id="n870_152"><use href="#d" x="870" y="152"/></g><g id="n870_153"><use href="#d" x="870" y="153"/></g><g id="n870_154"><use href="#d" x="870" y="154"/></g>
<g id="n800_155"><use href="#d" x="800" y="155"/></g><g id="n800_156"><use href="#d" x="800" y="156"/></g><g id="n780_157"><use href="#d" x="780" y="157"/></g><g id="n780_158"><use href="#d" x="780" y="158"/></g><g id="n870_155"><use href="#d" x="870" y="155"/></g><g id="n870_156"><use href="#d" x="870" y="156"/></g><g id="n972_155"><use href="#d" x="972" y="155"/></g><g id="n989_156"><use href="#d" x="989" y="156"/></g>
<g id="n711_159"><use href="#d" x="711" y="159"/></g><g id="n711_160"><use href="#d" x="711" y="160"/></g><g id="n780_159"><use href="#d" x="780" y="159"/></g><g id="n780_160"><use href="#d" x="780" y="160"/></g><g id="n642_161"><use href="#d" x="642" y="161"/></g><g id="n642_162"><use href="#d" x="642" y="162"/></g>
<g id="n711_161"><use href="#d" x="711" y="161"/></g><g id="n711_162"><use href="#d" x="711" y="162"/></g><g id="n711_163"><use href="#d" x="711" y="163"/></g><g id="n711_164"><use href="#d" x="711" y="164"/></g><g id="n780_161"><use href="#d" x="780" y="161"/></g><g id="n780_162"><use href="#d" x="780" y="162"/></g>
<g id="n572_163"><use href="#d" x="572" y="163"/></g><g id="n572_164"><use href="#d" x="572" y="164"/></g><g id="n642_163"><use href="#d" x="642" y="163"/></g><g id="n642_164"><use href="#d" x="642" y="164"/></g>
<g id="n607_165"><use href="#d" x="607" y="165"/></g><g id="n607_166"><use href="#d" x="607" y="166"/></g><g id="n607_167"><use href="#d" x="607" y="167"/></g><g id="n607_168"><use href="#d" x="607" y="168"/></g><g id="n607_169"><use href="#d" x="607" y="169"/></g><g id="n607_170"><use href="#d" x="607" y="170"/></g><g id="n607_171"><use href="#d" x="607" y="171"/></g><g id="n607_172"><use href="#d" x="607" y="172"/></g><g id="n677_165"><use href="#d" x="677" y="165"/></g><g id="n677_166"><use href="#d" x="677" y="166"/></g>
<g id="n575_173"><use href="#d" x="575" y="173"/></g><g id="n575_174"><use href="#d" x="575" y="174"/></g><g id="n575_175"><use href="#d" x="575" y="175"/></g><g id="n575_176"><use href="#d" x="575" y="176"/></g><g id="n645_173"><use href="#d" x="645" y="173"/></g><g id="n645_174"><use href="#d" x="645" y="174"/></g><g id="n645_175"><use href="#d" x="645" y="175"/></g><g id="n645_176"><use href="#d" x="645" y="176"/></g>
<g id="n850_157"><use href="#d" x="850" y="157"/></g><g id="n850_158"><use href="#d" x="850" y="158"/></g><g id="n850_159"><use href="#d" x="850" y="159"/></g><g id="n850_160"><use href="#d" x="850" y="160"/></g>
<g id="n920_157"><use href="#d" x="920" y="157"/></g><g id="n920_158"><use href="#d" x="920" y="158"/></g><g id="n920_159"><use href="#d" x="920" y="159"/></g><g id="n920_160"><use href="#d" x="920" y="160"/></g><g id="n920_161"><use href="#d" x="920" y="161"/></g><g id="n920_162"><use href="#d" x="920" y="162"/></g><g id="n920_163"><use href="#d" x="920" y="163"/></g><g id="n920_164"><use href="#d" x="920" y="164"/></g><g id="n920_165"><use href="#d" x="920" y="165"/></g><g id="n920_166"><use href="#d" x="920" y="166"/></g><g id="n920_167"><use href="#d" x="920" y="167"/></g><g id="n920_168"><use href="#d" x="920" y="168"/></g><g id="n920_169"><use href="#d" x="920" y="169"/></g><g id="n920_170"><use href="#d" x="920" y="170"/></g>
<g id="n850_171"><use href="#d" x="850" y="171"/></g><g id="n850_172"><use href="#d" x="850" y="172"/></g><g id="n920_171"><use href="#d" x="920" y="171"/></g><g id="n920_172"><use href="#d" x="920" y="172"/></g>
<g id="n850_173"><use href="#d" x="850" y="173"/></g><g id="n850_174"><use href="#d" x="850" y="174"/></g><g id="n850_175"><use href="#d" x="850" y="175"/></g><g id="n850_176"><use href="#d" x="850" y="176"/></g><g id="n850_177"><use href="#d" x="850" y="177"/></g><g id="n850_178"><use href="#d" x="850" y="178"/></g>
<g id="n920_173"><use href="#d" x="920" y="173"/></g><g id="n920_174"><use href="#d" x="920" y="174"/></g><g id="n920_175"><use href="#d" x="920" y="175"/></g><g id="n920_176"><use href="#d" x="920" y="176"/></g>
<g id="n989_157"><use href="#d" x="989" y="157"/></g><g id="n989_158"><use href="#d" x="989" y="158"/></g><g id="n989_159"><use href="#d" x="989" y="159"/></g><g id="n989_160"><use href="#d" x="989" y="160"/></g><g id="n1059_157"><use href="#d" x="1059" y="157"/></g><g id="n1059_158"><use href="#d" x="1059" y="158"/></g><g id="n1059_159"><use href="#d" x="1059" y="159"/></g><g id="n1059_160"><use href="#d" x="1059" y="160"/></g>
<g id="n1059_161"><use href="#d" x="1059" y="161"/></g><g id="n1059_162"><use href="#d" x="1059" y="162"/></g><g id="n1059_163"><use href="#d" x="1059" y="163"/></g><g id="n1059_164"><use href="#d" x="1059" y="164"/></g><g id="n1059_165"><use href="#d" x="1059" y="165"/></g><g id="n1059_166"><use href="#d" x="1059" y="166"/></g><g id="n1059_167"><use href="#d" x="1059" y="167"/></g><g id="n1059_168"><use href="#d" x="1059" y="168"/></g>
<g id="n1146_161"><use href="#d" x="1146" y="161"/></g><g id="n1153_162"><use href="#d" x="1153" y="162"/></g><g id="n1159_163"><use href="#d" x="1159" y="163"/></g><g id="n1162_164"><use href="#d" x="1162" y="164"/></g>
<g id="n989_169"><use href="#d" x="989" y="169"/></g><g id="n989_170"><use href="#d" x="989" y="170"/></g><g id="n1059_169"><use href="#d" x="1059" y="169"/></g><g id="n1059_170"><use href="#d" x="1059" y="170"/></g>
<g id="n989_171"><use href="#d" x="989" y="171"/></g><g id="n989_172"><use href="#d" x="989" y="172"/></g><g id="n989_173"><use href="#d" x="989" y="173"/></g><g id="n989_174"><use href="#d" x="989" y="174"/></g><g id="n1059_171"><use href="#d" x="1059" y="171"/></g><g id="n1059_172"><use href="#d" x="1059" y="172"/></g><g id="n1059_173"><use href="#d" x="1059" y="173"/></g><g id="n1059_174"><use href="#d" x="1059" y="174"/></g>
<g id="n1128_165"><use href="#d" x="1128" y="165"/></g><g id="n1128_166"><use href="#d" x="1128" y="166"/></g><g id="n1128_167"><use href="#d" x="1128" y="167"/></g><g id="n1128_168"><use href="#d" x="1128" y="168"/></g><g id="n1128_169"><use href="#d" x="1128" y="169"/></g><g id="n1128_170"><use href="#d" x="1128" y="170"/></g>
<g id="n1198_165"><use href="#d" x="1198" y="165"/></g><g id="n1198_166"><use href="#d" x="1198" y="166"/></g><g id="n1267_165"><use href="#d" x="1267" y="165"/></g><g id="n1267_166"><use href="#d" x="1267" y="166"/></g>
<g id="n1128_171"><use href="#d" x="1128" y="171"/></g><g id="n1128_172"><use href="#d" x="1128" y="172"/></g><g id="n1128_173"><use href="#d" x="1128" y="173"/></g><g id="n1128_174"><use href="#d" x="1128" y="174"/></g><g id="n1128_175"><use href="#d" x="1128" y="175"/></g><g id="n1128_176"><use href="#d" x="1128" y="176"/></g><g id="n1128_177"><use href="#d" x="1128" y="177"/></g><g id="n1128_178"><use href="#d" x="1128" y="178"/></g>
<g id="n1198_171"><use href="#d" x="1198" y="171"/></g><g id="n1198_172"><use href="#d" x="1198" y="172"/></g><g id="n1198_173"><use href="#d" x="1198" y="173"/></g><g id="n1198_174"><use href="#d" x="1198" y="174"/></g><g id="n1198_175"><use href="#d" x="1198" y="175"/></g><g id="n1198_176"><use href="#d" x="1198" y="176"/></g>
<g id="n1267_175"><use href="#d" x="1267" y="175"/></g><g id="n1267_176"><use href="#d" x="1267" y="176"/></g><g id="n1267_177"><use href="#d" x="1267" y="177"/></g><g id="n1267_178"><use href="#d" x="1267" y="178"/></g>
<g id="n816_179"><use href="#d" x="816" y="179"/></g><g id="n795_180"><use href="#d" x="795" y="180"/></g><g id="n903_179"><use href="#d" x="903" y="179"/></g><g id="n911_180"><use href="#d" x="911" y="180"/></g><g id="n916_181"><use href="#d" x="916" y="181"/></g><g id="n916_182"><use href="#d" x="916" y="182"/></g>
<g id="n708_181"><use href="#d" x="708" y="181"/></g><g id="n708_182"><use href="#d" x="708" y="182"/></g><g id="n708_183"><use href="#d" x="708" y="183"/></g><g id="n708_184"><use href="#d" x="708" y="184"/></g><g id="n777_181"><use href="#d" x="777" y="181"/></g><g id="n777_182"><use href="#d" x="777" y="182"/></g><g id="n847_181"><use href="#d" x="847" y="181"/></g><g id="n847_182"><use href="#d" x="847" y="182"/></g>
<g id="n850_183"><use href="#d" x="850" y="183"/></g><g id="n850_184"><use href="#d" x="850" y="184"/></g><g id="n920_183"><use href="#d" x="920" y="183"/></g><g id="n920_184"><use href="#d" x="920" y="184"/></g>
<g id="n792_185"><use href="#d" x="792" y="185"/></g><g id="n792_186"><use href="#d" x="792" y="186"/></g><g id="n792_187"><use href="#d" x="792" y="187"/></g><g id="n792_188"><use href="#d" x="792" y="188"/></g><g id="n792_189"><use href="#d" x="792" y="189"/></g><g id="n792_190"><use href="#d" x="792" y="190"/></g>
<g id="n861_185"><use href="#d" x="861" y="185"/></g><g id="n861_186"><use href="#d" x="861" y="186"/></g><g id="n861_187"><use href="#d" x="861" y="187"/></g><g id="n861_188"><use href="#d" x="861" y="188"/></g><g id="n861_189"><use href="#d" x="861" y="189"/></g><g id="n861_190"><use href="#d" x="861" y="190"/></g>
<g id="n809_191"><use href="#d" x="809" y="191"/></g><g id="n809_192"><use href="#d" x="809" y="192"/></g><g id="n878_191"><use href="#d" x="878" y="191"/></g><g id="n878_192"><use href="#d" x="878" y="192"/></g><g id="n878_193"><use href="#d" x="878" y="193"/></g><g id="n878_194"><use href="#d" x="878" y="194"/></g><g id="n878_195"><use href="#d" x="878" y="195"/></g><g id="n878_196"><use href="#d" x="878" y="196"/></g>
<g id="n920_177"><use href="#d" x="920" y="177"/></g><g id="n920_178"><use href="#d" x="920" y="178"/></g>
<g id="n989_177"><use href="#d" x="989" y="177"/></g><g id="n989_178"><use href="#d" x="989" y="178"/></g><g id="n989_179"><use href="#d" x="989" y="179"/></g><g id="n989_180"><use href="#d" x="989" y="180"/></g><g id="n989_181"><use href="#d" x="989" y="181"/></g><g id="n989_182"><use href="#d" x="989" y="182"/></g>
<g id="n989_183"><use href="#d" x="989" y="183"/></g><g id="n989_184"><use href="#d" x="989" y="184"/></g><g id="n989_185"><use href="#d" x="989" y="185"/></g><g id="n989_186"><use href="#d" x="989" y="186"/></g><g id="n989_187"><use href="#d" x="989" y="187"/></g><g id="n989_188"><use href="#d" x="989" y="188"/></g><g id="n1059_183"><use href="#d" x="1059" y="183"/></g><g id="n1059_184"><use href="#d" x="1059" y="184"/></g>
<g id="n982_189"><use href="#d" x="982" y="189"/></g><g id="n982_190"><use href="#d" x="982" y="190"/></g><g id="n1050_189"><use href="#d" x="1050" y="189"/></g><g id="n1050_190"><use href="#d" x="1050" y="190"/></g><g id="n982_191"><use href="#d" x="982" y="191"/></g><g id="n982_192"><use href="#d" x="982" y="192"/></g>
<g id="n1050_191"><use href="#d" x="1050" y="191"/></g><g id="n1050_192"><use href="#d" x="1050" y="192"/></g><g id="n1017_193"><use href="#d" x="1017" y="193"/></g><g id="n1014_194"><use href="#d" x="1014" y="194"/></g><g id="n1014_195"><use href="#d" x="1014" y="195"/></g><g id="n1009_196"><use href="#d" x="1009" y="196"/></g>
<g id="n1125_191"><use href="#d" x="1125" y="191"/></g><g id="n1125_192"><use href="#d" x="1125" y="192"/></g><g id="n1131_193"><use href="#d" x="1131" y="193"/></g><g id="n1143_194"><use href="#d" x="1143" y="194"/></g>
<g id="n934_197"><use href="#d" x="934" y="197"/></g><g id="n934_198"><use href="#d" x="934" y="198"/></g><g id="n1004_197"><use href="#d" x="1004" y="197"/></g><g id="n1004_198"><use href="#d" x="1004" y="198"/></g>
<g id="n1073_197"><use href="#d" x="1073" y="197"/></g><g id="n1073_198"><use href="#d" x="1073" y="198"/></g><g id="n1073_199"><use href="#d" x="1073" y="199"/></g><g id="n1073_200"><use href="#d" x="1073" y="200"/></g><g id="n1073_201"><use href="#d" x="1073" y="201"/></g><g id="n1073_202"><use href="#d" x="1073" y="202"/></g><g id="n1073_203"><use href="#d" x="1073" y="203"/></g><g id="n1073_204"><use href="#d" x="1073" y="204"/></g>
<g id="n1143_195"><use href="#d" x="1143" y="195"/></g><g id="n1143_196"><use href="#d" x="1143" y="196"/></g><g id="n1143_197"><use href="#d" x="1143" y="197"/></g><g id="n1143_198"><use href="#d" x="1143" y="198"/></g><g id="n1212_195"><use href="#d" x="1212" y="195"/></g><g id="n1212_196"><use href="#d" x="1212" y="196"/></g><g id="n1212_197"><use href="#d" x="1212" y="197"/></g><g id="n1212_198"><use href="#d" x="1212" y="198"/></g>
<g id="n1143_199"><use href="#d" x="1143" y="199"/></g><g id="n1143_200"><use href="#d" x="1143" y="200"/></g><g id="n1212_199"><use href="#d" x="1212" y="199"/></g><g id="n1212_200"><use href="#d" x="1212" y="200"/></g><g id="n1143_201"><use href="#d" x="1143" y="201"/></g><g id="n1143_202"><use href="#d" x="1143" y="202"/></g>
<g id="n1212_201"><use href="#d" x="1212" y="201"/></g><g id="n1212_202"><use href="#d" x="1212" y="202"/></g><g id="n1212_203"><use href="#d" x="1212" y="203"/></g><g id="n1212_204"><use href="#d" x="1212" y="204"/></g><g id="n1212_205"><use href="#d" x="1212" y="205"/></g><g id="n1212_206"><use href="#d" x="1212" y="206"/></g><g id="n1212_207"><use href="#d" x="1212" y="207"/></g><g id="n1212_208"><use href="#d" x="1212" y="208"/></g>
<g id="n1267_179"><use href="#d" x="1267" y="179"/></g><g id="n1267_180"><use href="#d" x="1267" y="180"/></g><g id="n1373_179"><use href="#d" x="1373" y="179"/></g><g id="n1407_180"><use href="#d" x="1407" y="180"/></g>
<g id="n1198_181"><use href="#d" x="1198" y="181"/></g><g id="n1198_182"><use href="#d" x="1198" y="182"/></g><g id="n1198_183"><use href="#d" x="1198" y="183"/></g><g id="n1198_184"><use href="#d" x="1198" y="184"/></g><g id="n1267_181"><use href="#d" x="1267" y="181"/></g><g id="n1267_182"><use href="#d" x="1267" y="182"/></g><g id="n1337_181"><use href="#d" x="1337" y="181"/></g><g id="n1337_182"><use href="#d" x="1337" y="182"/></g>
<g id="n1267_183"><use href="#d" x="1267" y="183"/></g><g id="n1267_184"><use href="#d" x="1267" y="184"/></g>
<g id="n1337_183"><use href="#d" x="1337" y="183"/></g><g id="n1337_184"><use href="#d" x="1337" y="184"/></g><g id="n1337_185"><use href="#d" x="1337" y="185"/></g><g id="n1337_186"><use href="#d" x="1337" y="186"/></g><g id="n1337_187"><use href="#d" x="1337" y="187"/></g><g id="n1337_188"><use href="#d" x="1337" y="188"/></g>
<g id="n1285_189"><use href="#d" x="1285" y="189"/></g><g id="n1285_190"><use href="#d" x="1285" y="190"/></g><g id="n1285_191"><use href="#d" x="1285" y="191"/></g><g id="n1285_192"><use href="#d" x="1285" y="192"/></g><g id="n1285_193"><use href="#d" x="1285" y="193"/></g><g id="n1285_194"><use href="#d" x="1285" y="194"/></g>
<g id="n1354_189"><use href="#d" x="1354" y="189"/></g><g id="n1354_190"><use href="#d" x="1354" y="190"/></g><g id="n1354_191"><use href="#d" x="1354" y="191"/></g><g id="n1354_192"><use href="#d" x="1354" y="192"/></g>
<g id="n1281_195"><use href="#d" x="1281" y="195"/></g><g id="n1281_196"><use href="#d" x="1281" y="196"/></g><g id="n1350_195"><use href="#d" x="1350" y="195"/></g><g id="n1350_196"><use href="#d" x="1350" y="196"/></g>
<g id="n1316_197"><use href="#d" x="1316" y="197"/></g><g id="n1316_198"><use href="#d" x="1316" y="198"/></g><g id="n1316_199"><use href="#d" x="1316" y="199"/></g><g id="n1316_200"><use href="#d" x="1316" y="200"/></g><g id="n1385_197"><use href="#d" x="1385" y="197"/></g><g id="n1385_198"><use href="#d" x="1385" y="198"/></g><g id="n1385_199"><use href="#d" x="1385" y="199"/></g><g id="n1385_200"><use href="#d" x="1385" y="200"/></g>
<g id="n1407_181"><use href="#d" x="1407" y="181"/></g><g id="n1407_182"><use href="#d" x="1407" y="182"/></g><g id="n1510_181"><use href="#d" x="1510" y="181"/></g><g id="n1527_182"><use href="#d" x="1527" y="182"/></g><g id="n1546_183"><use href="#d" x="1546" y="183"/></g><g id="n1546_184"><use href="#d" x="1546" y="184"/></g>
<g id="n1407_183"><use href="#d" x="1407" y="183"/></g><g id="n1407_184"><use href="#d" x="1407" y="184"/></g><g id="n1476_183"><use href="#d" x="1476" y="183"/></g><g id="n1476_184"><use href="#d" x="1476" y="184"/></g><g id="n1476_185"><use href="#d" x="1476" y="185"/></g><g id="n1476_186"><use href="#d" x="1476" y="186"/></g>
<g id="n834_105"><use href="#d" x="834" y="105"/></g><g id="n834_106"><use href="#d" x="834" y="106"/></g><g id="n834_107"><use href="#d" x="834" y="107"/></g><g id="n834_108"><use href="#d" x="834" y="108"/></g><g id="n903_105"><use href="#d" x="903" y="105"/></g><g id="n903_106"><use href="#d" x="903" y="106"/></g><g id="n903_107"><use href="#d" x="903" y="107"/></g><g id="n903_108"><use href="#d" x="903" y="108"/></g>
<g id="n834_109"><use href="#d" x="834" y="109"/></g><g id="n834_110"><use href="#d" x="834" y="110"/></g><g id="n903_109"><use href="#d" x="903" y="109"/></g><g id="n903_110"><use href="#d" x="903" y="110"/></g><g id="n764_111"><use href="#d" x="764" y="111"/></g><g id="n764_112"><use href="#d" x="764" y="112"/></g>
<g id="n834_111"><use href="#d" x="834" y="111"/></g><g id="n834_112"><use href="#d" x="834" y="112"/></g><g id="n834_113"><use href="#d" x="834" y="113"/></g><g id="n834_114"><use href="#d" x="834" y="114"/></g><g id="n834_115"><use href="#d" x="834" y="115"/></g><g id="n834_116"><use href="#d" x="834" y="116"/></g><g id="n834_117"><use href="#d" x="834" y="117"/></g><g id="n834_118"><use href="#d" x="834" y="118"/></g><g id="n834_119"><use href="#d" x="834" y="119"/></g><g id="n834_120"><use href="#d" x="834" y="120"/></g>
<g id="n903_111"><use href="#d" x="903" y="111"/></g><g id="n903_112"><use href="#d" x="903" y="112"/></g><g id="n972_111"><use href="#d" x="972" y="111"/></g><g id="n972_112"><use href="#d" x="972" y="112"/></g><g id="n903_113"><use href="#d" x="903" y="113"/></g><g id="n903_114"><use href="#d" x="903" y="114"/></g>
<g id="n972_113"><use href="#d" x="972" y="113"/></g><g id="n972_114"><use href="#d" x="972" y="114"/></g><g id="n972_115"><use href="#d" x="972" y="115"/></g><g id="n972_116"><use href="#d" x="972" y="116"/></g><g id="n972_117"><use href="#d" x="972" y="117"/></g><g id="n972_118"><use href="#d" x="972" y="118"/></g><g id="n1041_113"><use href="#d" x="1041" y="113"/></g><g id="n1041_114"><use href="#d" x="1041" y="114"/></g>
<g id="n903_119"><use href="#d" x="903" y="119"/></g><g id="n903_120"><use href="#d" x="903" y="120"/></g><g id="n972_119"><use href="#d" x="972" y="119"/></g><g id="n972_120"><use href="#d" x="972" y="120"/></g><g id="n1041_119"><use href="#d" x="1041" y="119"/></g><g id="n1041_120"><use href="#d" x="1041" y="120"/></g>
<g id="n937_121"><use href="#d" x="937" y="121"/></g><g id="n937_122"><use href="#d" x="937" y="122"/></g><g id="n937_123"><use href="#d" x="937" y="123"/></g><g id="n937_124"><use href="#d" x="937" y="124"/></g><g id="n1006_121"><use href="#d" x="1006" y="121"/></g><g id="n1006_122"><use href="#d" x="1006" y="122"/></g>
<g id="n903_125"><use href="#d" x="903" y="125"/></g><g id="n903_126"><use href="#d" x="903" y="126"/></g><g id="n972_125"><use href="#d" x="972" y="125"/></g><g id="n972_126"><use href="#d" x="972" y="126"/></g><g id="n903_127"><use href="#d" x="903" y="127"/></g><g id="n903_128"><use href="#d" x="903" y="128"/></g><g id="n972_127"><use href="#d" x="972" y="127"/></g><g id="n972_128"><use href="#d" x="972" y="128"/></g>
<g id="n937_129"><use href="#d" x="937" y="129"/></g><g id="n937_130"><use href="#d" x="937" y="130"/></g><g id="n1006_129"><use href="#d" x="1006" y="129"/></g><g id="n1006_130"><use href="#d" x="1006" y="130"/></g>
<g id="n972_105"><use href="#d" x="972" y="105"/></g><g id="n972_106"><use href="#d" x="972" y="106"/></g><g id="n972_107"><use href="#d" x="972" y="107"/></g><g id="n972_108"><use href="#d" x="972" y="108"/></g><g id="n1041_105"><use href="#d" x="1041" y="105"/></g><g id="n1041_106"><use href="#d" x="1041" y="106"/></g>
<g id="n1111_105"><use href="#d" x="1111" y="105"/></g><g id="n1111_106"><use href="#d" x="1111" y="106"/></g><g id="n1181_105"><use href="#d" x="1181" y="105"/></g><g id="n1181_106"><use href="#d" x="1181" y="106"/></g><g id="n1181_107"><use href="#d" x="1181" y="107"/></g><g id="n1181_108"><use href="#d" x="1181" y="108"/></g>
<g id="n1041_107"><use href="#d" x="1041" y="107"/></g><g id="n1041_108"><use href="#d" x="1041" y="108"/></g><g id="n1111_107"><use href="#d" x="1111" y="107"/></g><g id="n1111_108"><use href="#d" x="1111" y="108"/></g><g id="n1111_109"><use href="#d" x="1111" y="109"/></g><g id="n1111_110"><use href="#d" x="1111" y="110"/></g><g id="n1181_109"><use href="#d" x="1181" y="109"/></g><g id="n1181_110"><use href="#d" x="1181" y="110"/></g>
<g id="n1111_111"><use href="#d" x="1111" y="111"/></g><g id="n1111_112"><use href="#d" x="1111" y="112"/></g><g id="n1181_111"><use href="#d" x="1181" y="111"/></g><g id="n1181_112"><use href="#d" x="1181" y="112"/></g><g id="n1250_111"><use href="#d" x="1250" y="111"/></g><g id="n1250_112"><use href="#d" x="1250" y="112"/></g>
<g id="n1111_113"><use href="#d" x="1111" y="113"/></g><g id="n1111_114"><use href="#d" x="1111" y="114"/></g><g id="n1111_115"><use href="#d" x="1111" y="115"/></g><g id="n1111_116"><use href="#d" x="1111" y="116"/></g><g id="n1111_117"><use href="#d" x="1111" y="117"/></g><g id="n1111_118"><use href="#d" x="1111" y="118"/></g>
<g id="n1181_113"><use href="#d" x="1181" y="113"/></g><g id="n1181_114"><use href="#d" x="1181" y="114"/></g><g id="n1181_115"><use href="#d" x="1181" y="115"/></g><g id="n1181_116"><use href="#d" x="1181" y="116"/></g><g id="n1250_113"><use href="#d" x="1250" y="113"/></g><g id="n1250_114"><use href="#d" x="1250" y="114"/></g>
<g id="n1111_119"><use href="#d" x="1111" y="119"/></g><g id="n1111_120"><use href="#d" x="1111" y="120"/></g><g id="n1181_119"><use href="#d" x="1181" y="119"/></g><g id="n1181_120"><use href="#d" x="1181" y="120"/></g>
<g id="n1250_105"><use href="#d" x="1250" y="105"/></g><g id="n1250_106"><use href="#d" x="1250" y="106"/></g><g id="n1250_107"><use href="#d" x="1250" y="107"/></g><g id="n1250_108"><use href="#d" x="1250" y="108"/></g><g id="n1250_109"><use href="#d" x="1250" y="109"/></g><g id="n1250_110"><use href="#d" x="1250" y="110"/></g>
<g id="n1320_105"><use href="#d" x="1320" y="105"/></g><g id="n1320_106"><use href="#d" x="1320" y="106"/></g><g id="n1320_107"><use href="#d" x="1320" y="107"/></g><g id="n1320_108"><use href="#d" x="1320" y="108"/></g><g id="n1320_109"><use href="#d" x="1320" y="109"/></g><g id="n1320_110"><use href="#d" x="1320" y="110"/></g><g id="n1320_111"><use href="#d" x="1320" y="111"/></g><g id="n1320_112"><use href="#d" x="1320" y="112"/></g><g id="n1320_113"><use href="#d" x="1320" y="113"/></g><g id="n1320_114"><use href="#d" x="1320" y="114"/></g>
<g id="n1390_109"><use href="#d" x="1390" y="109"/></g><g id="n1390_110"><use href="#d" x="1390" y="110"/></g><g id="n1390_111"><use href="#d" x="1390" y="111"/></g><g id="n1390_112"><use href="#d" x="1390" y="112"/></g><g id="n1390_113"><use href="#d" x="1390" y="113"/></g><g id="n1390_114"><use href="#d" x="1390" y="114"/></g><g id="n1390_115"><use href="#d" x="1390" y="115"/></g><g id="n1390_116"><use href="#d" x="1390" y="116"/></g>
<g id="n700_63"><use href="#d" x="700" y="63"/></g><g id="n700_64"><use href="#d" x="700" y="64"/></g><g id="n805_63"><use href="#d" x="805" y="63"/></g><g id="n839_64"><use href="#d" x="839" y="64"/></g><g id="n630_65"><use href="#d" x="630" y="65"/></g><g id="n630_66"><use href="#d" x="630" y="66"/></g><g id="n700_65"><use href="#d" x="700" y="65"/></g><g id="n700_66"><use href="#d" x="700" y="66"/></g>
<g id="n770_65"><use href="#d" x="770" y="65"/></g><g id="n770_66"><use href="#d" x="770" y="66"/></g><g id="n805_67"><use href="#d" x="805" y="67"/></g><g id="n805_68"><use href="#d" x="805" y="68"/></g>
<g id="n666_67"><use href="#d" x="666" y="67"/></g><g id="n666_68"><use href="#d" x="666" y="68"/></g><g id="n666_69"><use href="#d" x="666" y="69"/></g><g id="n666_70"><use href="#d" x="666" y="70"/></g><g id="n666_71"><use href="#d" x="666" y="71"/></g><g id="n666_72"><use href="#d" x="666" y="72"/></g><g id="n666_73"><use href="#d" x="666" y="73"/></g><g id="n666_74"><use href="#d" x="666" y="74"/></g>
<g id="n736_67"><use href="#d" x="736" y="67"/></g><g id="n736_68"><use href="#d" x="736" y="68"/></g><g id="n736_69"><use href="#d" x="736" y="69"/></g><g id="n736_70"><use href="#d" x="736" y="70"/></g>
<g id="n658_75"><use href="#d" x="658" y="75"/></g><g id="n658_76"><use href="#d" x="658" y="76"/></g><g id="n728_75"><use href="#d" x="728" y="75"/></g><g id="n728_76"><use href="#d" x="728" y="76"/></g><g id="n717_77"><use href="#d" x="717" y="77"/></g><g id="n717_78"><use href="#d" x="717" y="78"/></g>
<g id="n786_77"><use href="#d" x="786" y="77"/></g><g id="n786_78"><use href="#d" x="786" y="78"/></g><g id="n786_79"><use href="#d" x="786" y="79"/></g><g id="n786_80"><use href="#d" x="786" y="80"/></g>
<g id="n839_65"><use href="#d" x="839" y="65"/></g><g id="n839_66"><use href="#d" x="839" y="66"/></g><g id="n908_65"><use href="#d" x="908" y="65"/></g><g id="n908_66"><use href="#d" x="908" y="66"/></g>
</g>
</g>
</svg>
